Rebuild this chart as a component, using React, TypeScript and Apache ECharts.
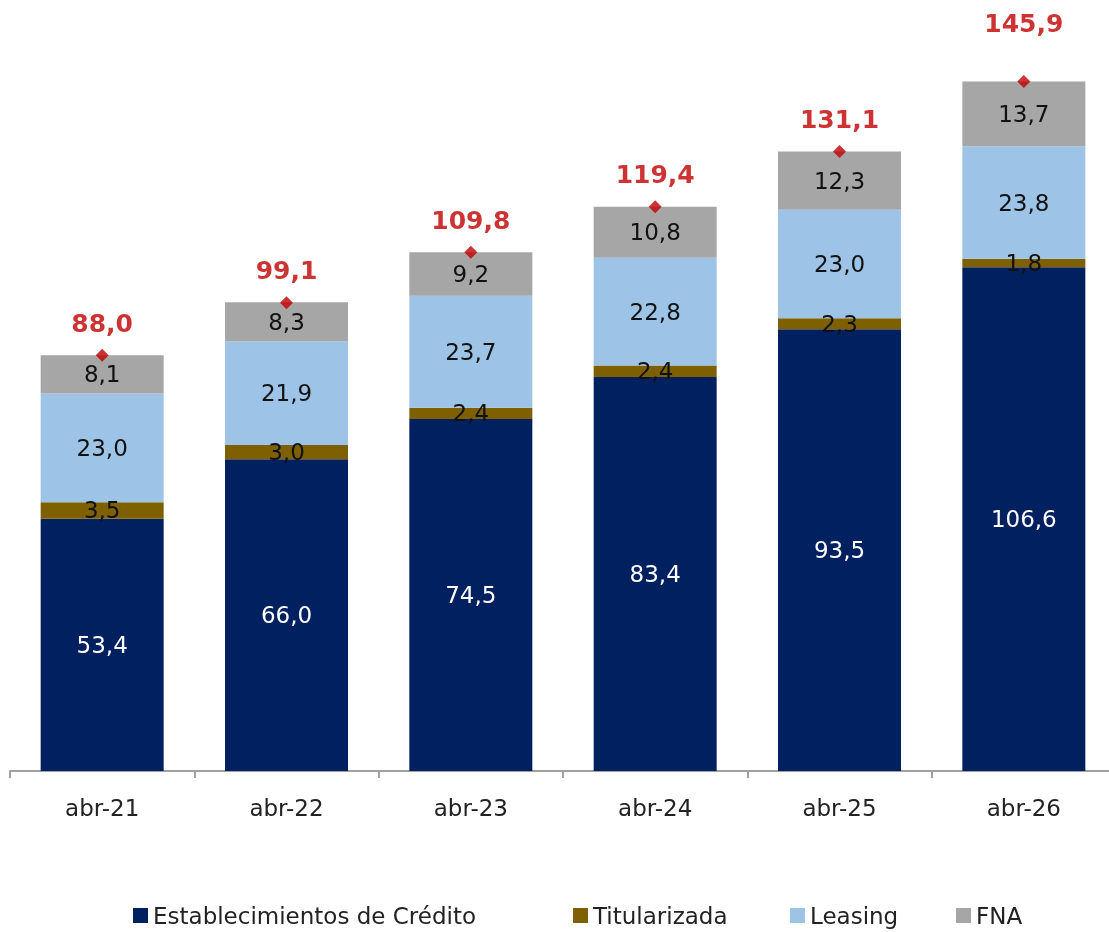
import React, { useEffect, useRef } from "react";
import * as echarts from "echarts";

const categories = ["abr-21", "abr-22", "abr-23", "abr-24", "abr-25", "abr-26"];
const establecimientos = [53.4, 66.0, 74.5, 83.4, 93.5, 106.6];
const titularizada = [3.5, 3.0, 2.4, 2.4, 2.3, 1.8];
const leasing = [23.0, 21.9, 23.7, 22.8, 23.0, 23.8];
const fna = [8.1, 8.3, 9.2, 10.8, 12.3, 13.7];
const totals = [88.0, 99.1, 109.8, 119.4, 131.1, 145.9];
const seriesNames = ["Establecimientos de Crédito", "Titularizada", "Leasing", "FNA"];

const FONT = "'DejaVu Sans', sans-serif";
const fmt = (v: number) => v.toFixed(1).replace(".", ",");
const legendLefts = [133, 573, 790, 956];

export default function App() {
  const ref = useRef<HTMLDivElement>(null);
  useEffect(() => {
    if (!ref.current) return;
    const chart = echarts.init(ref.current, undefined, { renderer: "svg" });
    const mkBar = (name: string, data: number[], color: string, textColor: string) => ({
      name,
      type: "bar",
      stack: "total",
      data,
      barWidth: 123,
      itemStyle: { color },
      label: {
        show: true,
        position: "inside",
        color: textColor,
        fontFamily: FONT,
        fontSize: 23,
        formatter: (p: any) => fmt(p.value),
      },
      emphasis: { disabled: true },
    });
    chart.setOption({
      animation: false,
      textStyle: { fontFamily: FONT },
      grid: {
        left: 10,
        width: 1106,
        top: 15,
        bottom: 161,
        containLabel: false,
        outerBoundsMode: "none",
      },
      xAxis: {
        type: "category",
        data: categories,
        axisLine: { show: true, lineStyle: { color: "#A0A0A0", width: 2 } },
        axisTick: { show: true, length: 7, lineStyle: { color: "#A0A0A0", width: 2 } },
        axisLabel: { color: "#222", fontSize: 23, fontFamily: FONT, margin: 25 },
      },
      yAxis: { type: "value", min: 0, max: 160, show: false, splitLine: { show: false } },
      legend: seriesNames.map((n, i) => ({
        top: 904,
        left: legendLefts[i],
        padding: 0,
        itemWidth: 15,
        itemHeight: 15,
        itemGap: 7,
        icon: "rect",
        textStyle: { fontSize: 23, color: "#222", fontFamily: FONT },
        data: [n],
      })),
      series: [
        mkBar(seriesNames[0], establecimientos, "#002060", "#FFFFFF"),
        mkBar(seriesNames[1], titularizada, "#7F6000", "#111"),
        mkBar(seriesNames[2], leasing, "#9DC3E6", "#111"),
        mkBar(seriesNames[3], fna, "#A6A6A6", "#111"),
        {
          name: "Total",
          type: "scatter",
          symbol: "diamond",
          symbolSize: 13,
          itemStyle: { color: "#C00000" },
          z: 10,
          data: totals.map((v, i) =>
            i === totals.length - 1 ? { value: v, label: { offset: [0, -26] } } : v
          ),
          label: {
            show: true,
            position: "top",
            distance: 13,
            color: "#C00000",
            fontWeight: "bold",
            fontSize: 25,
            fontFamily: FONT,
            formatter: (p: any) => fmt(p.value),
          },
          emphasis: { disabled: true },
        },
      ],
    });
    return () => chart.dispose();
  }, []);
  return (
    <div
      ref={ref}
      style={{ position: "fixed", top: 0, left: 0, width: 1109, height: 932 }}
    />
  );
}
